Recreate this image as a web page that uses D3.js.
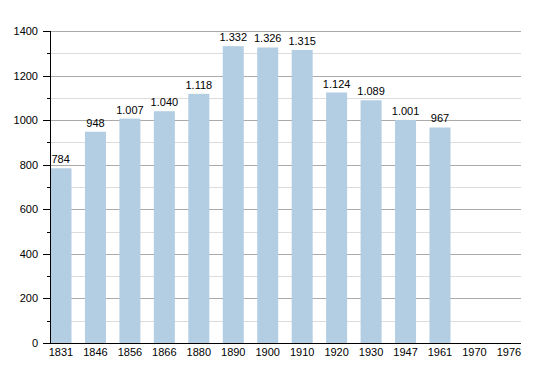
<!DOCTYPE html>
<html><head><meta charset="utf-8">
<script src="https://cdn.jsdelivr.net/npm/d3@7"></script>
<style>body{margin:0;background:#fff}svg text{font-family:"Liberation Sans",Arial,sans-serif}</style>
</head><body><svg id="c" width="550" height="373"></svg>
<script>
const years = ["1831","1846","1856","1866","1880","1890","1900","1910","1920","1930","1947","1961","1970","1976"];
const population = [784,948,1007,1040,1118,1332,1326,1315,1124,1089,1001,967,null,null];
const yMajorTicks = [0,200,400,600,800,1000,1200,1400];
const yMinorTicks = [100,300,500,700,900,1100,1300];

(function(){
const svg = d3.select("#c");
const mLeft = 50, mRight = 521, mTop = 31, mBottom = 343;
const x = d3.scalePoint().domain(years).range([61, 508.9]);
const y = d3.scaleLinear().domain([0,1400]).range([mBottom, mTop]);
const bw = 21;
const fmt = d3.formatLocale({decimal:",",thousands:".",grouping:[3],currency:["",""]}).format(",");
const py = d => Math.round(y(d))+0.5;

svg.append("g").selectAll("line").data(yMinorTicks).join("line")
  .attr("x1", mLeft).attr("x2", mRight).attr("y1", py).attr("y2", py)
  .attr("stroke", "#dcdcdc").attr("stroke-width", 1);
svg.append("g").selectAll("line").data(yMajorTicks.filter(d=>d>0)).join("line")
  .attr("x1", mLeft).attr("x2", mRight).attr("y1", py).attr("y2", py)
  .attr("stroke", "#aaaaaa").attr("stroke-width", 1);

const data = years.map((yr,i)=>({yr, v: population[i], i})).filter(d=>d.v!=null);
svg.append("g").selectAll("rect").data(data).join("rect")
  .attr("x", d=>x(d.yr)-bw/2).attr("width", bw)
  .attr("y", d=>y(d.v)).attr("height", d=>mBottom-y(d.v))
  .attr("fill", "#b3cde3");

svg.append("g").selectAll("text").data(data).join("text")
  .attr("x", d=> d.i===0 ? x(d.yr)-bw/2+1 : x(d.yr))
  .attr("y", d=>y(d.v)-5)
  .attr("text-anchor", d=> d.i===0 ? "start" : "middle")
  .attr("font-size", 11).attr("fill","#000")
  .text(d=>fmt(d.v));

svg.append("line").attr("x1", mLeft+0.5).attr("x2", mLeft+0.5).attr("y1", mTop).attr("y2", mBottom).attr("stroke","#000");
svg.append("g").selectAll("line").data(yMajorTicks).join("line")
  .attr("x1", mLeft-7).attr("x2", mLeft).attr("y1", py).attr("y2", py).attr("stroke","#000");
svg.append("g").selectAll("line").data(yMinorTicks).join("line")
  .attr("x1", mLeft-3).attr("x2", mLeft).attr("y1", py).attr("y2", py).attr("stroke","#000");
svg.append("g").selectAll("text").data(yMajorTicks).join("text")
  .attr("x", 38).attr("y", d=>y(d)+4).attr("text-anchor","end").attr("font-size", 11).text(d=>d);

svg.append("line").attr("x1", mLeft).attr("x2", mRight).attr("y1", mBottom+0.5).attr("y2", mBottom+0.5).attr("stroke","#000");
svg.append("g").selectAll("text").data(years).join("text")
  .attr("x", d=>x(d)).attr("y", 356).attr("text-anchor","middle").attr("font-size", 11).text(d=>d);
})();
</script></body></html>
